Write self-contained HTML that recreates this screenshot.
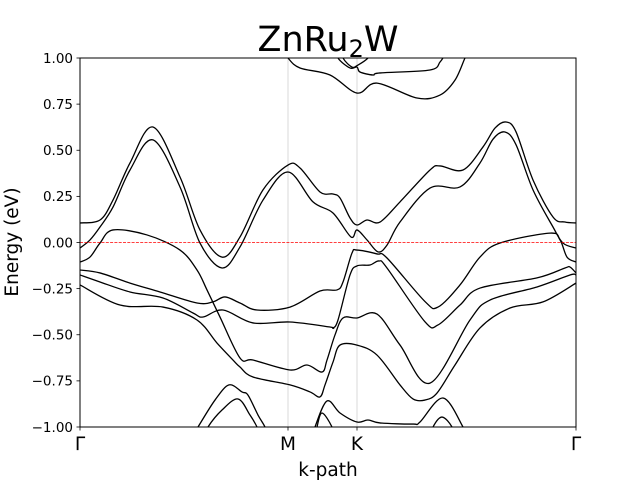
<!DOCTYPE html>
<html><head><meta charset="utf-8"><style>
html,body{margin:0;padding:0;background:#fff;}
svg{display:block;font-family:"DejaVu Sans","Liberation Sans",sans-serif;}
</style></head><body>
<svg id="chart" width="640" height="480" viewBox="0 0 640 480">
<rect x="0" y="0" width="640" height="480" fill="#fff"/>
<text x="328" y="51" font-size="35" text-anchor="middle">ZnRu<tspan font-size="24" dy="6">2</tspan><tspan dy="-6">W</tspan></text>
<defs><clipPath id="plotclip"><rect x="80" y="58" width="496" height="369"/></clipPath></defs>
<g id="grid"></g>
<g id="bands" clip-path="url(#plotclip)"></g>
<rect x="80" y="58" width="496" height="369" fill="none" stroke="#000" stroke-width="1"/>
<g id="axes"></g>
<text x="18" y="242" font-size="18.5" text-anchor="middle" transform="rotate(-90 18 242)">Energy (eV)</text>
<text x="328" y="476" font-size="18.5" text-anchor="middle">k-path</text>
</svg>
<script>
const yTicks = [1.0, 0.75, 0.5, 0.25, 0.0, -0.25, -0.5, -0.75, -1.0];
const yTickLabels = ["1.00","0.75","0.50","0.25","0.00","\u22120.25","\u22120.50","\u22120.75","\u22121.00"];
const kTicks = [0, 2.08, 2.77, 4.96];
const kTickLabels = ["\u0393","M","K","\u0393"];
const fermiLevel = 0.0;

const bandA = [[0,0.106],[0.2,0.122],[0.33,0.230],[0.5,0.431],[0.73,0.626],[1.0,0.355],[1.2,0.068],[1.42,-0.079],[1.6,0.030],[1.83,0.285],[2.08,0.420],[2.2,0.404],[2.4,0.274],[2.53,0.263],[2.6,0.241],[2.7,0.133],[2.77,0.095],[2.87,0.122],[3.0,0.111],[3.2,0.220],[3.5,0.393],[3.6,0.415],[3.83,0.393],[4.03,0.518],[4.15,0.620],[4.26,0.653],[4.36,0.600],[4.53,0.339],[4.73,0.138],[4.85,0.111],[4.96,0.106]];
const bandB = [[0,-0.030],[0.1,0.014],[0.2,0.084],[0.33,0.192],[0.5,0.393],[0.73,0.556],[1.0,0.301],[1.2,-0.003],[1.42,-0.138],[1.6,-0.024],[1.83,0.230],[2.08,0.382],[2.33,0.220],[2.53,0.160],[2.71,0.030],[2.77,0.068],[2.87,0.014],[2.98,-0.051],[3.07,-0.014],[3.2,0.111],[3.5,0.295],[3.8,0.301],[4.0,0.431],[4.13,0.560],[4.25,0.599],[4.36,0.530],[4.53,0.285],[4.73,0.084],[4.83,-0.003],[4.96,-0.030]];
const bandC = [[0,-0.106],[0.1,-0.079],[0.2,-0.003],[0.33,0.068],[0.67,0.041],[1.0,-0.041],[1.17,-0.149],[1.27,-0.257],[1.4,-0.404],[1.6,-0.626],[1.73,-0.637],[2.1,-0.691],[2.27,-0.664],[2.42,-0.702],[2.47,-0.637],[2.55,-0.501],[2.63,-0.409],[2.77,-0.409],[2.97,-0.388],[3.2,-0.556],[3.5,-0.762],[3.9,-0.420],[4.1,-0.312],[4.57,-0.241],[4.9,-0.176],[4.96,-0.176]];
const bandD = [[0,-0.149],[0.2,-0.165],[0.5,-0.220],[0.8,-0.268],[1.17,-0.328],[1.33,-0.322],[1.45,-0.295],[1.6,-0.328],[1.77,-0.366],[2.1,-0.350],[2.4,-0.263],[2.57,-0.257],[2.63,-0.214],[2.72,-0.057],[2.77,-0.041],[2.97,-0.062],[3.07,-0.084],[3.45,-0.320],[3.58,-0.350],[3.8,-0.230],[4.0,-0.079],[4.2,-0.003],[4.7,0.051],[4.8,0.014],[4.87,-0.079],[4.96,-0.106]];
const bandE = [[0,-0.176],[0.2,-0.214],[0.5,-0.268],[0.83,-0.301],[1.13,-0.382],[1.23,-0.404],[1.43,-0.366],[1.73,-0.436],[2.1,-0.431],[2.5,-0.458],[2.53,-0.463],[2.58,-0.420],[2.7,-0.176],[2.77,-0.127],[2.9,-0.122],[2.99,-0.100],[3.07,-0.138],[3.45,-0.430],[3.58,-0.447],[3.8,-0.339],[4.0,-0.247],[4.57,-0.192],[4.85,-0.138],[4.9,-0.133],[4.96,-0.165]];
const bandF = [[0,-0.230],[0.4,-0.339],[0.83,-0.350],[1.17,-0.420],[1.37,-0.545],[1.53,-0.637],[1.6,-0.675],[1.73,-0.729],[2.1,-0.772],[2.3,-0.810],[2.4,-0.837],[2.45,-0.772],[2.53,-0.648],[2.6,-0.556],[2.77,-0.556],[2.97,-0.610],[3.2,-0.772],[3.33,-0.848],[3.45,-0.854],[3.57,-0.816],[3.75,-0.664],[4.0,-0.463],[4.3,-0.355],[4.63,-0.322],[4.96,-0.220]];
const bandG = [[1.1,-1.07],[1.18,-1.0],[1.35,-0.854],[1.49,-0.772],[1.62,-0.810],[1.68,-0.827],[1.78,-0.935],[1.85,-1.0],[1.9,-1.07]];
const bandH = [[1.23,-1.07],[1.28,-1.0],[1.42,-0.908],[1.58,-0.848],[1.7,-0.935],[1.77,-1.0],[1.82,-1.07]];
const bandI = [[2.32,-1.07],[2.35,-1.0],[2.47,-0.859],[2.6,-0.924],[2.77,-0.973],[2.88,-0.962],[3.0,-0.978],[3.33,-0.984],[3.4,-0.973],[3.63,-0.843],[3.83,-1.0],[3.88,-1.07]];
const bandJ = [[2.35,-1.07],[2.37,-1.0],[2.42,-0.924],[2.52,-1.0],[2.55,-1.07]];
const bandJ2 = [[3.5,-1.07],[3.53,-1.0],[3.62,-0.946],[3.72,-1.0],[3.75,-1.07]];
const bandT1 = [[2.0,1.07],[2.08,1.0],[2.2,0.946],[2.5,0.908],[2.77,0.810],[2.97,0.864],[3.37,0.783],[3.6,0.799],[3.75,0.880],[3.85,1.0],[3.9,1.05]];
const bandT2 = [[2.55,1.07],[2.58,1.0],[2.7,0.946],[2.77,0.951],[2.8,0.924],[2.93,0.908],[3.0,0.919],[3.5,0.935],[3.6,0.978],[3.65,1.02]];
const bandT3 = [[2.6,1.07],[2.63,1.0],[2.72,0.951],[2.78,0.962],[2.88,1.0],[2.92,1.04]];

const allBands = [bandA,bandB,bandC,bandD,bandE,bandF,bandG,bandH,bandI,bandJ,bandJ2,bandT1,bandT2,bandT3];
const bandNames = ["band-a","band-b","band-c","band-d","band-e","band-f","band-g","band-h","band-i","band-j","band-j2","band-t1","band-t2","band-t3"];

const X0=80, X1=576, Y0=58, Y1=427, KMAX=4.96, EMIN=-1, EMAX=1;
function xScale(k){return X0 + (k/KMAX)*(X1-X0);}
function yScale(e){return Y1 - (e-EMIN)/(EMAX-EMIN)*(Y1-Y0);}
const NS="http://www.w3.org/2000/svg";
function mk(tag, attrs){const el=document.createElementNS(NS,tag);for(const a in attrs)el.setAttribute(a,attrs[a]);return el;}

function pathFor(pts){
  const p = pts.map(d=>[xScale(d[0]),yScale(d[1])]);
  let s = "M"+p[0][0].toFixed(2)+","+p[0][1].toFixed(2);
  for(let i=0;i<p.length-1;i++){
    const p0=p[Math.max(0,i-1)], p1=p[i], p2=p[i+1], p3=p[Math.min(p.length-1,i+2)];
    const t=1/6;
    const c1=[p1[0]+(p2[0]-p0[0])*t, p1[1]+(p2[1]-p0[1])*t];
    const c2=[p2[0]-(p3[0]-p1[0])*t, p2[1]-(p3[1]-p1[1])*t];
    s+=" C"+c1[0].toFixed(2)+","+c1[1].toFixed(2)+" "+c2[0].toFixed(2)+","+c2[1].toFixed(2)+" "+p2[0].toFixed(2)+","+p2[1].toFixed(2);
  }
  return s;
}

const grid=document.getElementById('grid');
kTicks.forEach((k,i)=>{
  if(i===0||i===kTicks.length-1) return;
  const l=mk('line',{x1:xScale(k),x2:xScale(k),y1:Y0,y2:Y1,stroke:'#d0d0d0','stroke-width':0.8});
  
  
  grid.appendChild(l);
});

const bands=document.getElementById('bands');
allBands.forEach((b,i)=>{
  const p=mk('path',{d:pathFor(b),fill:'none',stroke:'#000','stroke-width':1.3,'stroke-linejoin':'round'});
  
  
  bands.appendChild(p);
});
const fl=mk('line',{x1:X0,x2:X1,y1:yScale(fermiLevel),y2:yScale(fermiLevel),stroke:'#ff0000','stroke-width':0.8,'stroke-dasharray':'3,1.3'});


bands.appendChild(fl);

const axes=document.getElementById('axes');
yTicks.forEach((v,i)=>{
  const y=yScale(v);
  const t=mk('line',{x1:X0-3.5,x2:X0,y1:y,y2:y,stroke:'#000','stroke-width':0.8});
  
  
  axes.appendChild(t);
  const lb=mk('text',{x:X0-7,y:y+4.8,'font-size':13.5,'text-anchor':'end'});
  lb.textContent=yTickLabels[i];
  
  
  axes.appendChild(lb);
});
kTicks.forEach((k,i)=>{
  const x=xScale(k);
  const t=mk('line',{x1:x,x2:x,y1:Y1,y2:Y1+3.5,stroke:'#000','stroke-width':0.8});
  
  
  axes.appendChild(t);
  const lb=mk('text',{x:x,y:Y1+23,'font-size':18.5,'text-anchor':'middle'});
  lb.textContent=kTickLabels[i];
  
  
  axes.appendChild(lb);
});
</script>
</body></html>
